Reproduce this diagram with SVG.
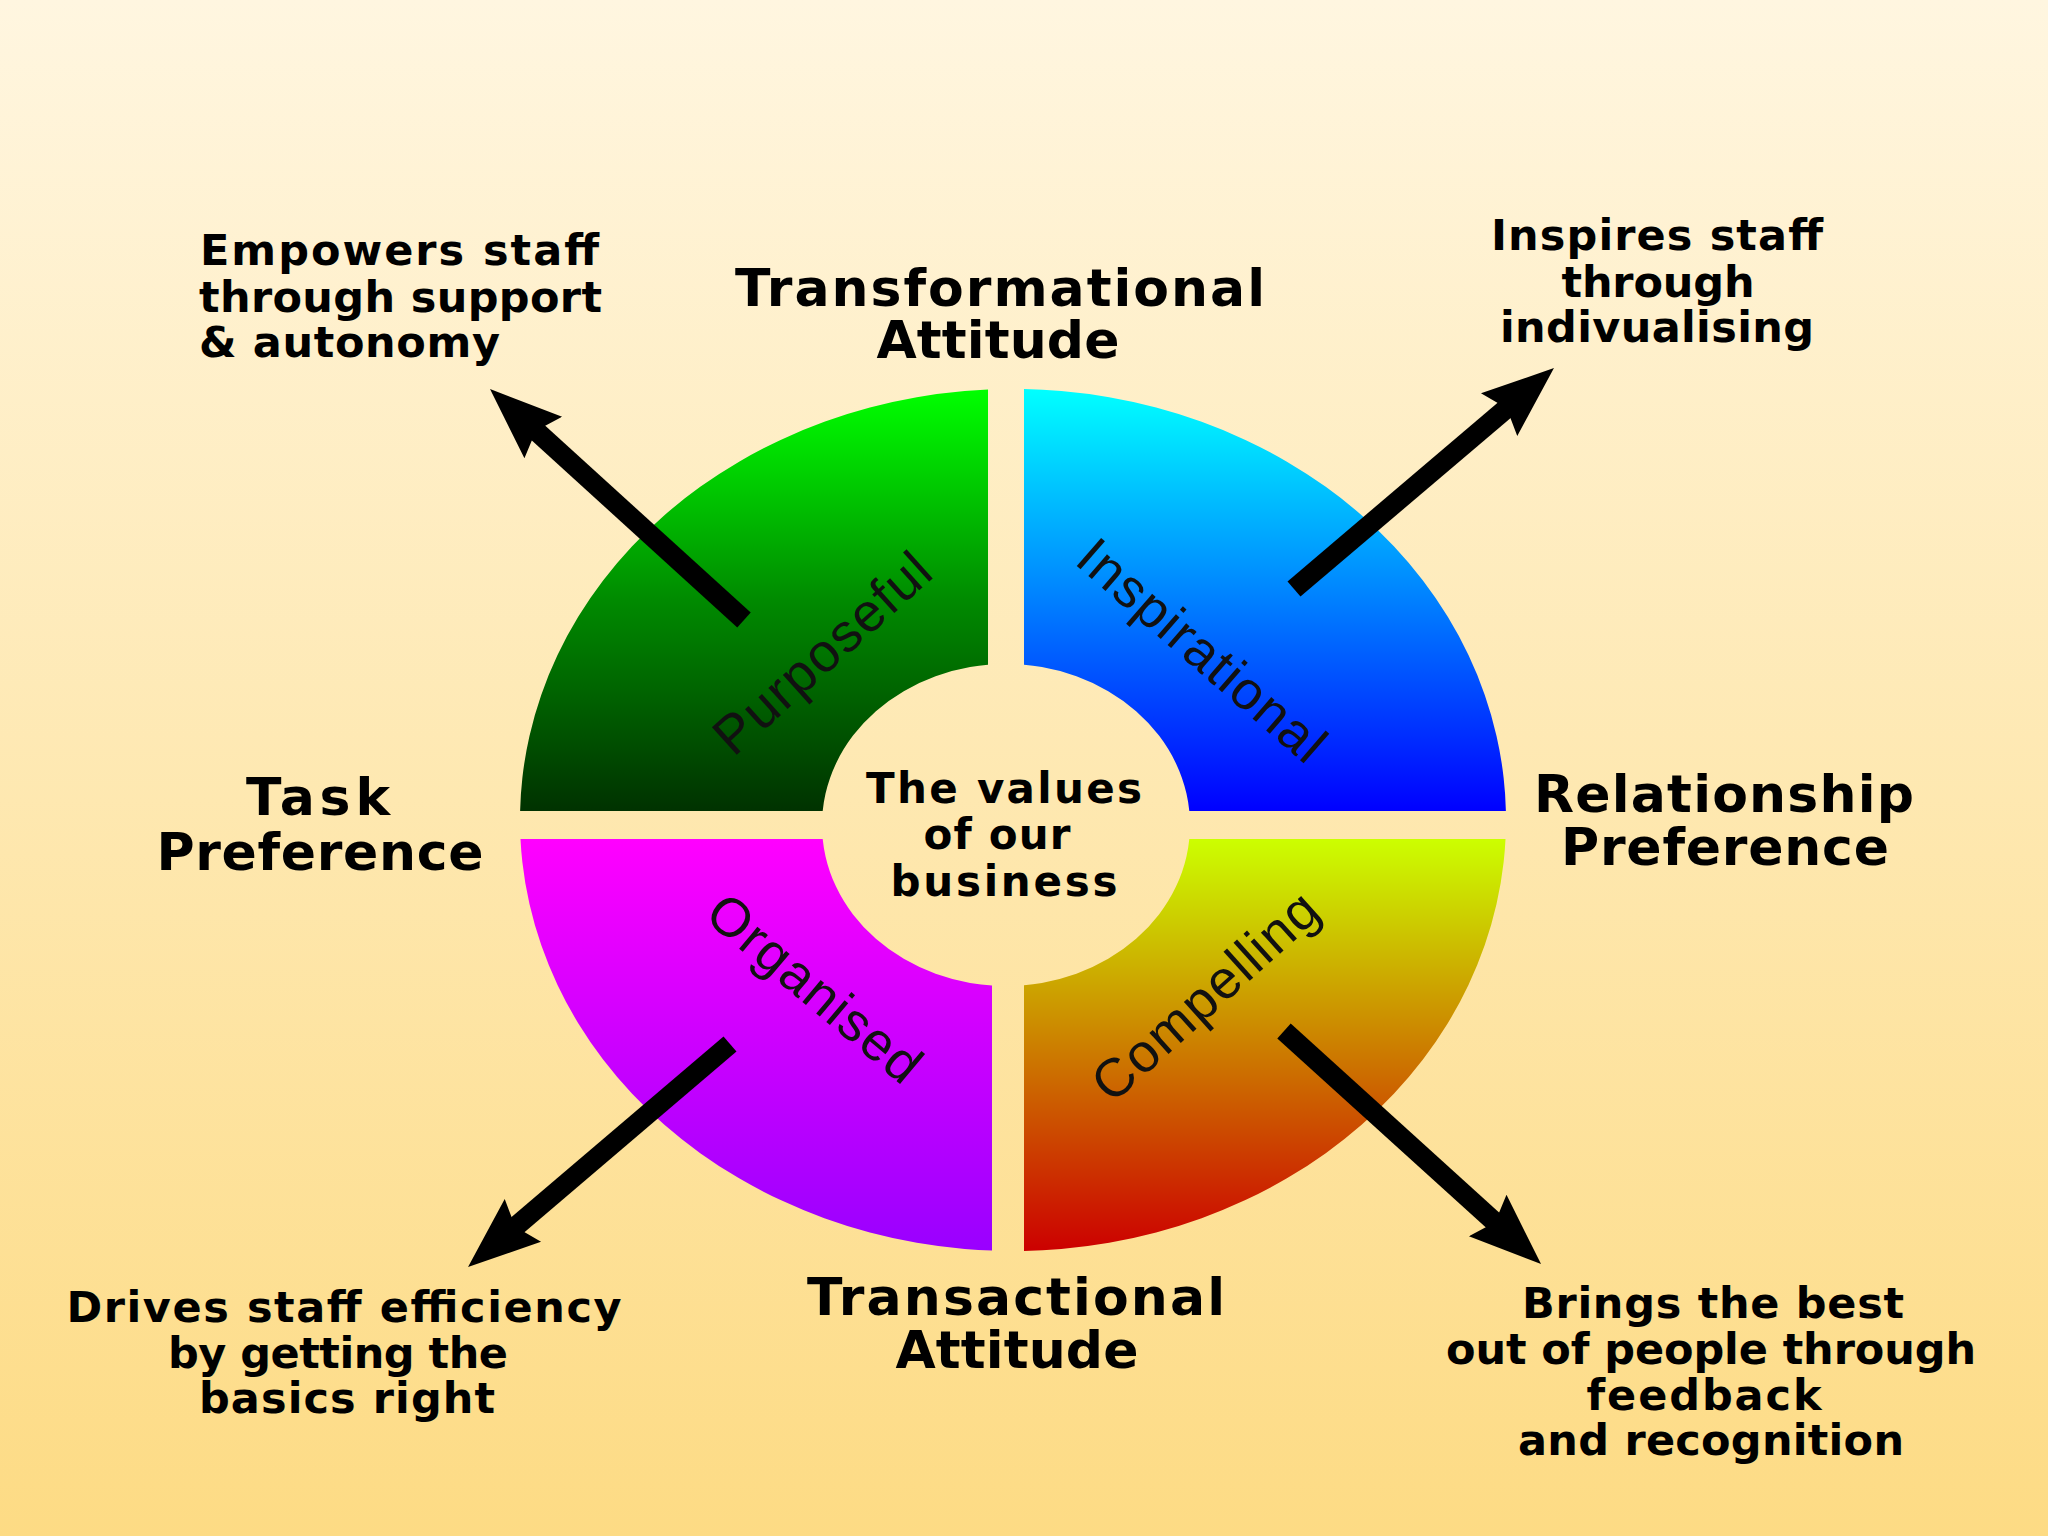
<svg xmlns="http://www.w3.org/2000/svg" width="2048" height="1536" viewBox="0 0 2048 1536">
<style>
.big{font-family:"DejaVu Sans","Liberation Sans",sans-serif;font-weight:bold;font-size:52px;fill:#000;text-anchor:middle}
.small{font-family:"DejaVu Sans","Liberation Sans",sans-serif;font-weight:bold;font-size:43px;fill:#000}
.mid{text-anchor:middle}
.rot{font-family:"Liberation Sans",Arial,sans-serif;font-size:54px;fill:#111;text-anchor:middle;letter-spacing:1.5px}
.arrow{stroke:#000;stroke-width:20;fill:none;marker-end:url(#ah)}
</style>
<defs>
<linearGradient id="bg" x1="0" y1="0" x2="0" y2="1">
<stop offset="0" stop-color="#fff6e0"/><stop offset="1" stop-color="#fddb84"/>
</linearGradient>
<linearGradient id="gGreen" gradientUnits="userSpaceOnUse" x1="0" y1="390" x2="0" y2="811">
<stop offset="0" stop-color="#00ff00"/><stop offset="0.5" stop-color="#008a00"/><stop offset="1" stop-color="#003200"/>
</linearGradient>
<linearGradient id="gBlue" gradientUnits="userSpaceOnUse" x1="0" y1="390" x2="0" y2="811">
<stop offset="0" stop-color="#00ffff"/><stop offset="1" stop-color="#0000ff"/>
</linearGradient>
<linearGradient id="gMag" gradientUnits="userSpaceOnUse" x1="0" y1="839" x2="0" y2="1251">
<stop offset="0" stop-color="#ff00ff"/><stop offset="1" stop-color="#9900ff"/>
</linearGradient>
<linearGradient id="gWarm" gradientUnits="userSpaceOnUse" x1="0" y1="839" x2="0" y2="1251">
<stop offset="0" stop-color="#ccff00"/><stop offset="1" stop-color="#cc0000"/>
</linearGradient>
<path id="ring" fill-rule="evenodd" d="M520,820 A493,431 0 1 0 1506,820 A493,431 0 1 0 520,820 Z M822,825 A184,161 0 1 0 1190,825 A184,161 0 1 0 822,825 Z"/>
<clipPath id="cTL"><rect x="0" y="0" width="988" height="811"/></clipPath>
<clipPath id="cTR"><rect x="1024" y="0" width="1024" height="811"/></clipPath>
<clipPath id="cBL"><rect x="0" y="839" width="992" height="697"/></clipPath>
<clipPath id="cBR"><rect x="1024" y="839" width="1024" height="697"/></clipPath>
<marker id="ah" markerUnits="userSpaceOnUse" viewBox="0 -30 80 60" markerWidth="80" markerHeight="60" refX="32" refY="0" orient="auto">
<path d="M0,-28 L72,0 L0,28 L10,0 Z" fill="#000"/>
</marker>
</defs>
<rect width="2048" height="1536" fill="url(#bg)"/>

<g id="quadrant-purposeful">
<use href="#ring" fill="url(#gGreen)" clip-path="url(#cTL)"/>
<text class="rot" transform="translate(823,653) rotate(-42)" dy="18">Purposeful</text>
</g>
<g id="quadrant-inspirational">
<use href="#ring" fill="url(#gBlue)" clip-path="url(#cTR)"/>
<text class="rot" transform="translate(1202,651) rotate(41)" dy="18">Inspirational</text>
</g>
<g id="quadrant-organised">
<use href="#ring" fill="url(#gMag)" clip-path="url(#cBL)"/>
<text class="rot" transform="translate(815,989) rotate(40)" dy="18">Organised</text>
</g>
<g id="quadrant-compelling">
<use href="#ring" fill="url(#gWarm)" clip-path="url(#cBR)"/>
<text class="rot" transform="translate(1206,996) rotate(-42)" dy="18">Compelling</text>
</g>

<g id="center">
<text class="small mid" style="font-size:42px" x="1004" y="803" textLength="276">The values</text>
<text class="small mid" style="font-size:42px" x="997" y="849" textLength="147">of our</text>
<text class="small mid" style="font-size:42px" x="1004" y="896" textLength="227">business</text>
</g>

<g id="label-transformational">
<text class="big" x="1000" y="306" textLength="530">Transformational</text>
<text class="big" x="998" y="358" textLength="243">Attitude</text>
</g>
<g id="label-transactional">
<text class="big" x="1016" y="1315" textLength="418">Transactional</text>
<text class="big" x="1017" y="1368" textLength="243">Attitude</text>
</g>
<g id="label-task">
<text class="big" x="318" y="815" textLength="144">Task</text>
<text class="big" x="320" y="870" textLength="327">Preference</text>
</g>
<g id="label-relationship">
<text class="big" x="1724" y="812" textLength="380">Relationship</text>
<text class="big" x="1725" y="865" textLength="328">Preference</text>
</g>

<g id="note-empowers">
<text class="small" x="200" y="265" textLength="399">Empowers staff</text>
<text class="small" x="199" y="312" textLength="403">through support</text>
<text class="small" x="199" y="357" textLength="301">&amp; autonomy</text>
</g>
<g id="note-inspires">
<text class="small mid" x="1657" y="250" textLength="332">Inspires staff</text>
<text class="small mid" x="1658" y="297" textLength="193">through</text>
<text class="small mid" x="1657" y="342" textLength="314">indivualising</text>
</g>
<g id="note-drives">
<text class="small mid" x="344" y="1322" textLength="555">Drives staff efficiency</text>
<text class="small mid" x="338" y="1368" textLength="340">by getting the</text>
<text class="small mid" x="347" y="1413" textLength="296">basics right</text>
</g>
<g id="note-brings">
<text class="small mid" x="1713" y="1318" textLength="382">Brings the best</text>
<text class="small mid" x="1711" y="1364" textLength="530">out of people through</text>
<text class="small mid" x="1704" y="1410" textLength="235">feedback</text>
<text class="small mid" x="1711" y="1455" textLength="386">and recognition</text>
</g>

<g id="connectors">
<line class="arrow" x1="744" y1="620" x2="519.6" y2="415.9"/>
<line class="arrow" x1="1294" y1="589" x2="1523.5" y2="393.9"/>
<line class="arrow" x1="730" y1="1044" x2="498.5" y2="1241.1"/>
<line class="arrow" x1="1284" y1="1031" x2="1511.4" y2="1237.1"/>
</g>
</svg>
